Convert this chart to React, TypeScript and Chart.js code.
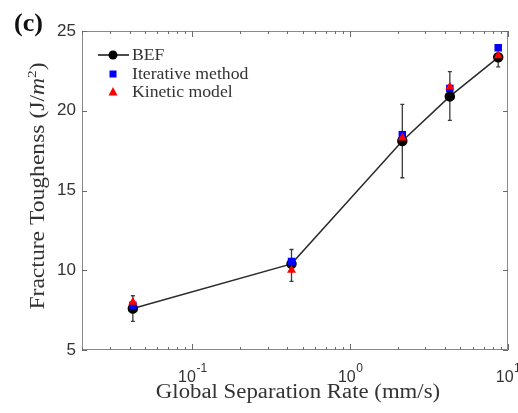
import React, { useEffect, useRef } from 'react';
import { Chart, registerables } from 'chart.js';

Chart.register(...registerables);

// ---- data ----
const rates = [0.042, 0.425, 2.14, 4.28, 8.67];
const befValues = [7.6, 10.4, 18.1, 20.9, 23.35];
const befErrLow = [6.8, 9.3, 15.8, 19.4, 22.75];
const befErrHigh = [8.4, 11.3, 20.4, 22.45, 23.9];
const iterValues = [7.8, 10.55, 18.5, 21.4, 23.95];
const kinValues = [8.0, 10.0, 18.3, 21.5, 23.45];

const xTickValues = [
  0.02, 0.03, 0.04, 0.05, 0.06, 0.07, 0.08, 0.09,
  0.1, 0.2, 0.3, 0.4, 0.5, 0.6, 0.7, 0.8, 0.9,
  1, 2, 3, 4, 5, 6, 7, 8, 9, 10,
];
const xMajorTicks = [0.1, 1, 10];
const xMajorBase = ['10', '10', '10'];
const xMajorExp = ['-1', '0', '1'];
const yTickValues = [5, 10, 15, 20, 25];

const seriesNames = ['BEF', 'Iterative method', 'Kinetic model'];
const panelLabel = '(c)';
const xTitle = 'Global Separation Rate (mm/s)';

const SERIF = '"Liberation Serif", "Times New Roman", serif';
const SANS = '"Liberation Sans", Arial, sans-serif';

const decorPlugin = {
  id: 'decor',
  beforeDatasetsDraw(chart: any) {
    const { ctx, scales } = chart;
    const xs = scales.x;
    const ys = scales.y;
    ctx.save();
    ctx.strokeStyle = '#3a3a3a';
    ctx.lineWidth = 1.3;
    for (let i = 0; i < rates.length; i++) {
      const px = xs.getPixelForValue(rates[i]);
      const pLo = ys.getPixelForValue(befErrLow[i]);
      const pHi = ys.getPixelForValue(befErrHigh[i]);
      ctx.beginPath();
      ctx.moveTo(px, pLo);
      ctx.lineTo(px, pHi);
      ctx.moveTo(px - 2, pLo);
      ctx.lineTo(px + 2, pLo);
      ctx.moveTo(px - 2, pHi);
      ctx.lineTo(px + 2, pHi);
      ctx.stroke();
    }
    ctx.restore();
  },
  afterDraw(chart: any) {
    const { ctx, scales, chartArea } = chart;
    const xs = scales.x;
    const ys = scales.y;
    const { left, right, top, bottom } = chartArea;
    ctx.save();
    // frame
    ctx.strokeStyle = '#8a8a8a';
    ctx.lineWidth = 1;
    ctx.strokeRect(left + 0.5, top + 0.5, right - left - 1, bottom - top - 1);
    // inward ticks
    ctx.strokeStyle = '#6a6a6a';
    ctx.beginPath();
    xTickValues.forEach((v) => {
      const px = Math.round(xs.getPixelForValue(v)) + 0.5;
      const major = xMajorTicks.includes(v);
      const len = major ? 6 : 3;
      ctx.moveTo(px, bottom);
      ctx.lineTo(px, bottom - len);
      ctx.moveTo(px, top);
      ctx.lineTo(px, top + len);
    });
    yTickValues.forEach((v) => {
      const py = Math.round(ys.getPixelForValue(v)) + 0.5;
      ctx.moveTo(left, py);
      ctx.lineTo(left + 5, py);
      ctx.moveTo(right, py);
      ctx.lineTo(right - 5, py);
    });
    ctx.stroke();

    // x major tick labels with superscript exponents
    ctx.fillStyle = '#333';
    ctx.textBaseline = 'alphabetic';
    ctx.textAlign = 'left';
    xMajorTicks.forEach((v, i) => {
      const px = xs.getPixelForValue(v);
      ctx.font = `16px ${SANS}`;
      const wb = ctx.measureText(xMajorBase[i]).width;
      ctx.font = `12px ${SANS}`;
      const we = ctx.measureText(xMajorExp[i]).width;
      const x0 = px - (wb + we) / 2;
      ctx.font = `16px ${SANS}`;
      ctx.fillText(xMajorBase[i], x0, 382);
      ctx.font = `12px ${SANS}`;
      ctx.fillText(xMajorExp[i], x0 + wb + 0.5, 372);
    });

    // panel label
    ctx.fillStyle = '#111';
    ctx.font = `bold 26px ${SERIF}`;
    ctx.textAlign = 'left';
    ctx.fillText(panelLabel, 14, 31);

    // x title
    ctx.fillStyle = '#333';
    ctx.font = `20px ${SERIF}`;
    ctx.textAlign = 'center';
    ctx.save();
    ctx.translate((left + right) / 2 + 3, 398);
    ctx.scale(1.14, 1);
    ctx.fillText(xTitle, 0, 0);
    ctx.restore();

    // y title with italic m and superscript 2
    const segs = [
      { t: 'Fracture Toughenss (J/', f: `20px ${SERIF}`, dy: 0 },
      { t: 'm', f: `italic 20px ${SERIF}`, dy: 0 },
      { t: '2', f: `13px ${SERIF}`, dy: -8 },
      { t: ')', f: `20px ${SERIF}`, dy: 0 },
    ];
    let total = 0;
    const widths = segs.map((s) => {
      ctx.font = s.f;
      const w = ctx.measureText(s.t).width;
      total += w;
      return w;
    });
    ctx.save();
    ctx.translate(44, 186);
    ctx.rotate(-Math.PI / 2);
    ctx.scale(1.18, 1);
    ctx.textAlign = 'left';
    let cx = -total / 2;
    segs.forEach((s, i) => {
      ctx.font = s.f;
      ctx.fillText(s.t, cx, s.dy);
      cx += widths[i];
    });
    ctx.restore();

    // legend
    const lx = 113;
    const rows = [55, 74, 92];
    ctx.textAlign = 'left';
    ctx.textBaseline = 'middle';
    ctx.strokeStyle = '#111';
    ctx.lineWidth = 1.5;
    ctx.beginPath();
    ctx.moveTo(98, rows[0]);
    ctx.lineTo(129, rows[0]);
    ctx.stroke();
    ctx.fillStyle = '#000';
    ctx.beginPath();
    ctx.arc(lx, rows[0], 4.5, 0, Math.PI * 2);
    ctx.fill();
    ctx.fillStyle = '#0000ff';
    ctx.fillRect(lx - 3.5, rows[1] - 3.5, 7, 7);
    ctx.fillStyle = '#ff0000';
    ctx.beginPath();
    ctx.moveTo(lx, rows[2] - 5);
    ctx.lineTo(lx + 4.5, rows[2] + 3.5);
    ctx.lineTo(lx - 4.5, rows[2] + 3.5);
    ctx.closePath();
    ctx.fill();
    ctx.fillStyle = '#333';
    ctx.font = `17px ${SERIF}`;
    seriesNames.forEach((n, i) => {
      ctx.save();
      ctx.translate(132, rows[i] + 1);
      ctx.scale(1.04, 1);
      ctx.fillText(n, 0, 0);
      ctx.restore();
    });
    ctx.restore();
  },
};

export default function App() {
  const ref = useRef<HTMLCanvasElement>(null);
  useEffect(() => {
    if (!ref.current) return;
    const chart = new Chart(ref.current, {
      type: 'scatter',
      data: {
        datasets: [
          {
            label: seriesNames[0],
            data: rates.map((x, i) => ({ x, y: befValues[i] })),
            showLine: true,
            borderColor: '#2a2a2a',
            borderWidth: 1.5,
            backgroundColor: '#000',
            pointBackgroundColor: '#000',
            pointBorderColor: '#000',
            pointRadius: 4.5,
            pointStyle: 'circle',
            order: 2,
          },
          {
            label: seriesNames[1],
            data: rates.map((x, i) => ({ x, y: iterValues[i] })),
            showLine: false,
            backgroundColor: '#0000ff',
            pointBackgroundColor: '#0000ff',
            pointBorderColor: '#0000ff',
            pointBorderWidth: 0,
            pointRadius: 5.3,
            pointStyle: 'rect',
            order: 1,
          },
          {
            label: seriesNames[2],
            data: rates.map((x, i) => ({ x, y: kinValues[i] })),
            showLine: false,
            backgroundColor: '#ff0000',
            pointBackgroundColor: '#ff0000',
            pointBorderColor: '#ff0000',
            pointBorderWidth: 0,
            pointRadius: 5.2,
            pointStyle: 'triangle',
            order: 0,
          },
        ],
      },
      options: {
        animation: false,
        responsive: true,
        maintainAspectRatio: false,
        layout: { padding: { top: 31, right: 10, left: 0, bottom: 0 } },
        plugins: { legend: { display: false }, tooltip: { enabled: false } },
        scales: {
          x: {
            type: 'logarithmic',
            min: 0.02,
            max: 10,
            grid: { display: false, drawTicks: false },
            border: { display: false },
            afterBuildTicks: (axis: any) => {
              axis.ticks = xTickValues.map((v) => ({ value: v }));
            },
            afterFit: (axis: any) => {
              axis.height = 63;
              axis.paddingLeft = 0;
              axis.paddingRight = 0;
            },
            ticks: {
              autoSkip: false,
              maxRotation: 0,
              minRotation: 0,
              callback: () => '',
            },
          },
          y: {
            type: 'linear',
            min: 5,
            max: 25,
            grid: { display: false, drawTicks: false },
            border: { display: false },
            afterBuildTicks: (axis: any) => {
              axis.ticks = yTickValues.map((v) => ({ value: v }));
            },
            afterFit: (axis: any) => {
              axis.width = 82;
              axis.paddingTop = 0;
              axis.paddingBottom = 0;
            },
            ticks: {
              padding: 6,
              color: '#333',
              font: { family: SANS, size: 17 },
            },
          },
        },
      },
      plugins: [decorPlugin],
    });
    return () => chart.destroy();
  }, []);

  return (
    <div style={{ position: 'fixed', left: 0, top: 0, width: 518, height: 413, background: '#fff' }}>
      <canvas ref={ref} />
    </div>
  );
}
